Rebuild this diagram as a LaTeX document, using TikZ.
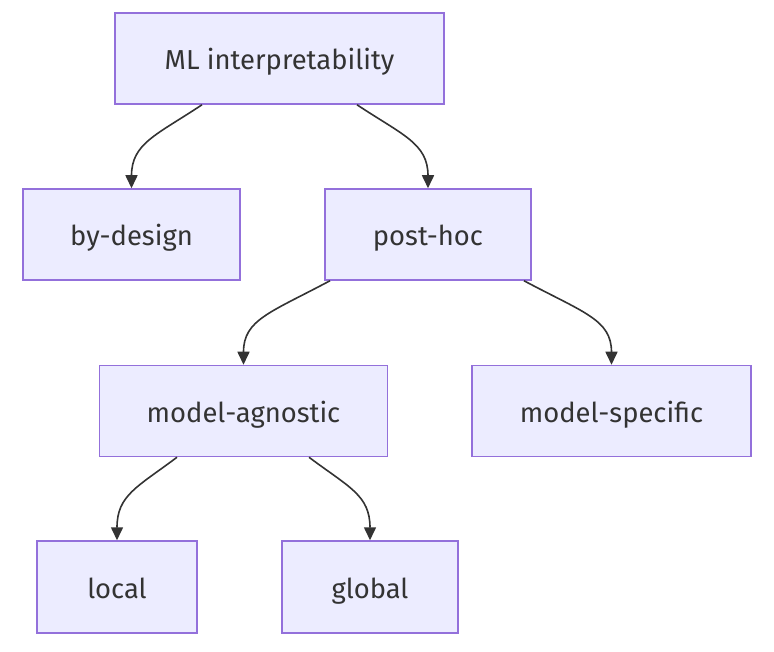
\documentclass[tikz,border=0pt]{standalone}
\usepackage{fontspec}
\setmainfont{Fira Sans}
\usetikzlibrary{arrows.meta}
\definecolor{boxfill}{HTML}{ECECFF}
\definecolor{boxline}{HTML}{9370DB}
\definecolor{ink}{HTML}{333333}
\tikzset{
  box/.style={draw=boxline, fill=boxfill, line width=1.5pt, minimum height=91pt,
    inner sep=0pt, text=ink, text height=23pt, text depth=0pt,
    font=\fontsize{27.4}{32}\selectfont},
  link/.style={draw=ink, line width=1.6pt, -{Triangle[length=13pt,width=12pt]}}
}
\begin{document}
\begin{tikzpicture}[x=1pt,y=-1pt]
\useasboundingbox (0,0) rectangle (774,652);

\node[box, minimum width=329pt] (ml) at (279.5,58.5) {ML interpretability};
\node[box, minimum width=217pt] (design) at (131.5,234.5) {by-design};
\node[box, minimum width=206pt] (posthoc) at (428,234.5) {post-hoc};
\node[box, minimum width=288pt] (agnostic) at (243.5,411) {model-agnostic};
\node[box, minimum width=279pt] (specific) at (611.5,411) {model-specific};
\node[box, minimum width=160pt, minimum height=92pt] (local) at (117,587) {local};
\node[box, minimum width=176pt, minimum height=92pt] (global) at (370,587) {global};

\draw[link] ([xshift=-77.5pt]ml.south) .. controls +(-45,30) and +(0,-45) .. (design.north);
\draw[link] ([xshift=77.5pt]ml.south) .. controls +(45,30) and +(0,-45) .. (posthoc.north);

\draw[link] ([xshift=-98pt]posthoc.south) .. controls +(-60,32) and +(0,-45) .. (agnostic.north);
\draw[link] ([xshift=96pt]posthoc.south) .. controls +(60,32) and +(0,-45) .. (specific.north);

\draw[link] ([xshift=-66.5pt]agnostic.south) .. controls +(-40,30) and +(0,-45) .. (local.north);
\draw[link] ([xshift=65.5pt]agnostic.south) .. controls +(40,30) and +(0,-45) .. (global.north);
\end{tikzpicture}
\end{document}
